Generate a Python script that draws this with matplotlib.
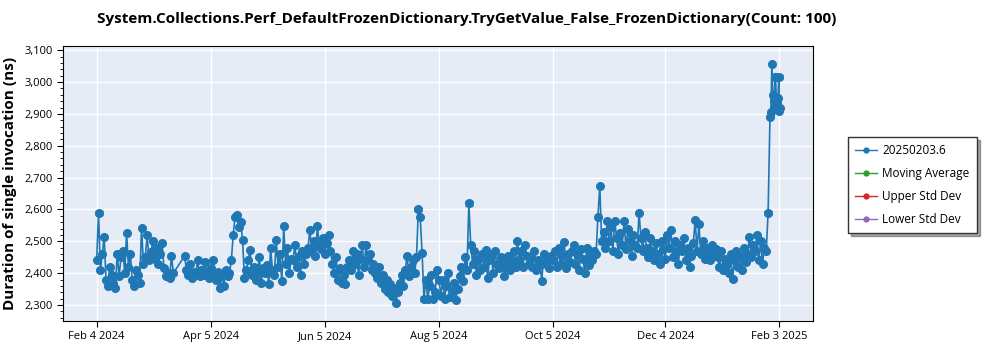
import numpy as np
import pandas as pd
import matplotlib
matplotlib.use('Agg')
import matplotlib.pyplot as plt
from matplotlib.lines import Line2D
from matplotlib.ticker import FuncFormatter, MultipleLocator

plt.rcParams['font.family'] = ['Open Sans', 'DejaVu Sans']

nan = np.nan

# one value per day (ns), starting Feb 4 2024
feb24 = [2440, 2590, 2410, 2460, 2515, 2380, 2360, 2420, 2395, 2370, 2355, 2460, 2390,
         2450, 2470, 2400, 2527, 2420, 2460, 2380, 2360, 2410, 2395, 2370, 2543, 2430]
mar24 = [2450, 2520, 2440, 2465, 2500, 2445, 2480, 2430, 2460, 2494,
         2415, 2390, 2400, 2385, 2454, 2400, nan, nan, nan, nan, nan, 2454,
         2410, 2395, 2430, 2385, 2405, 2400, 2440, 2390, 2410]
apr24 = [2395, 2435, 2400, 2385, 2415, 2440, 2390, 2380, 2405, 2355, 2395, 2360, 2410, 2390, 2400,
         2440, 2520, 2577, 2584, 2545, 2560, 2505, 2385,
         2410, 2440, 2472, 2395, 2420, 2380, 2405]
may24 = [2450, 2370, 2415, 2400, 2425, 2365, 2478, 2410, 2395,
         2504, 2420, 2460, 2375, 2548, 2430, 2480, 2400, 2445,
         2440, 2490, 2420, 2455, 2395, 2470, 2430, 2460,
         2480, 2535, 2470, 2500, 2455]
jun24 = [2548, 2490, 2475, 2510, 2460, 2495, 2520, 2470,
         2430, 2400, 2450, 2380, 2415, 2370, 2395, 2365, 2420,
         2440, 2410, 2470, 2430, 2460, 2395, 2445, 2490, 2420,
         2488, 2440, 2460, 2410]
jul24 = [2430,
         2400, 2385, 2420, 2370, 2395, 2350, 2380, 2340, 2365, 2330, 2355, 2307,
         2340, 2370, 2395, 2360, 2410, 2455, 2390, 2420, 2440, 2400, 2450,
         2600, 2575, 2463,
         2320, 2380, 2320, 2360]
aug24 = [2395, 2320, 2340, 2410, 2380,
         2330, 2380, 2320, 2360, 2400, 2325, 2345, 2370, 2315, 2350,
         2390, 2420, 2375, 2450, 2410,
         2619, 2488,
         2430, 2470, 2395, 2445, 2410, 2460, 2420, 2472, 2385]
sep24 = [2440, 2455, 2400, 2470, 2430, 2415, 2450,
         2440, 2392, 2425, 2455, 2410, 2435, 2470, 2420,
         2502, 2440, 2470, 2420, 2490, 2455, 2430,
         2450, 2420, 2470, 2410, 2440, 2425, 2377, 2460]
oct24 = [2430, 2445, 2415, 2455,
         2440, 2470, 2420, 2480, 2430, 2455, 2497, 2415, 2460, 2435, 2470,
         2490, 2430, 2460, 2410, 2475, 2445, 2400, 2480, 2425, 2455, 2440, 2470, 2460,
         2576, 2674, 2500]
nov24 = [2530, 2480, 2565, 2500, 2545, 2470, 2565, 2510, 2460, 2525, 2490, 2565, 2475, 2540,
         2500, 2455, 2520, 2490,
         2480, 2590, 2510, 2470, 2530,
         2480, 2450, 2510, 2470, 2440, 2495, 2460]
dec24 = [2430, 2500, 2475, 2445, 2520,
         2480, 2535, 2450, 2500, 2465, 2430, 2490, 2470, 2510, 2440, 2480, 2420, 2455, 2495,
         2566, 2470,
         2555, 2460, 2500, 2445, 2480, 2465, 2440, 2490, 2455, 2475]
jan25 = [2450,
         2420, 2470, 2409, 2445, 2430, 2400, 2460,
         2383, 2440, 2470, 2420, 2455, 2410, 2480, 2435, 2460, 2514,
         2450, 2490, 2470, 2520, 2440, 2500, 2430, 2480, 2470,
         2590, 2890, 3055, 2920]
feb25 = [3016, 2935, 2910]

# extra runs in the last days
late_times = ['2025-01-29 12:00', '2025-01-30 12:00', '2025-01-31 08:00', '2025-01-31 16:00',
              '2025-02-01 12:00', '2025-02-02 08:00', '2025-02-02 16:00', '2025-02-03 12:00']
late_vals = [2905, 2960, 2940, 3016, 2925, 2950, 3016, 2920]

# points with visible error bars
err_times = ['2024-02-05 00:00', '2024-07-25 00:00', '2024-07-28 00:00', '2024-07-30 00:00',
             '2024-08-05 00:00', '2024-08-21 00:00', '2024-10-31 00:00', '2025-01-28 00:00',
             '2025-01-31 16:00', '2025-02-02 16:00']
err_size = [6, 6, 6, 6, 6, 8, 8, 6, 6, 6]

tick_dates = ['2024-02-04', '2024-04-05', '2024-06-05', '2024-08-05',
              '2024-10-05', '2024-12-04', '2025-02-03']
tick_labels = ['Feb 4 2024', 'Apr 5 2024', 'Jun 5 2024', 'Aug 5 2024',
               'Oct 5 2024', 'Dec 4 2024', 'Feb 3 2025']

series_names = ['20250203.6', 'Moving Average', 'Upper Std Dev', 'Lower Std Dev']
series_colors = ['#1f77b4', '#2ca02c', '#d62728', '#9467bd']

daily = feb24 + mar24 + apr24 + may24 + jun24 + jul24 + aug24 + sep24 + oct24 + nov24 + dec24 + jan25 + feb25
s = pd.Series(daily, index=pd.date_range('2024-02-04', periods=len(daily), freq='D'))
s = pd.concat([s, pd.Series(late_vals, index=pd.to_datetime(late_times))]).sort_index().dropna()

blue = series_colors[0]
fig = plt.figure(figsize=(10, 3.5), dpi=100)
ax = fig.add_axes([0.063, 1 - 321 / 350, 0.75, 275 / 350])
ax.set_facecolor('#e5ecf6')

ax.plot(s.index, s.values, color=blue, lw=1.2, marker='o', ms=5.5, zorder=3)
et = pd.to_datetime(err_times, format='%Y-%m-%d %H:%M')
ax.errorbar(et, s.loc[et].values, yerr=err_size, fmt='none', ecolor=blue, capsize=3, lw=1.2, zorder=3)

ax.set_xticks(pd.to_datetime(tick_dates))
ax.set_xticklabels(tick_labels)
ax.set_xlim(pd.Timestamp('2024-01-17'), pd.Timestamp('2025-02-21'))
ax.set_ylim(2250, 3113)
ax.yaxis.set_major_locator(MultipleLocator(100))
ax.yaxis.set_minor_locator(MultipleLocator(20))
ax.yaxis.set_major_formatter(FuncFormatter(lambda v, p: f'{v:,.0f}'))
ax.tick_params(labelsize=8, length=4, color='black')
ax.tick_params(which='minor', length=2)
ax.grid(True, color='white', lw=1)
ax.set_axisbelow(True)
for sp in ax.spines.values():
    sp.set_color('black')

ax.set_ylabel('Duration of single invocation (ns)', fontsize=11, fontweight='bold', labelpad=5)
fig.text(0.467, 0.947, 'System.Collections.Perf_DefaultFrozenDictionary.TryGetValue_False_FrozenDictionary(Count: 100)',
         ha='center', va='center', fontsize=11, fontweight='bold')

handles = [Line2D([], [], color=c, lw=1, marker='o', ms=3.5) for c in series_colors]
leg = ax.legend(handles, series_names, loc='upper left', bbox_to_anchor=(1.047, 0.669),
                fontsize=8.5, fancybox=False, shadow=True, framealpha=1, edgecolor='#333333',
                borderpad=0.6, labelspacing=0.85, handlelength=1.8, handletextpad=0.5,
                borderaxespad=0)
leg.get_frame().set_linewidth(1)

fig.savefig('out.png', dpi=100)
